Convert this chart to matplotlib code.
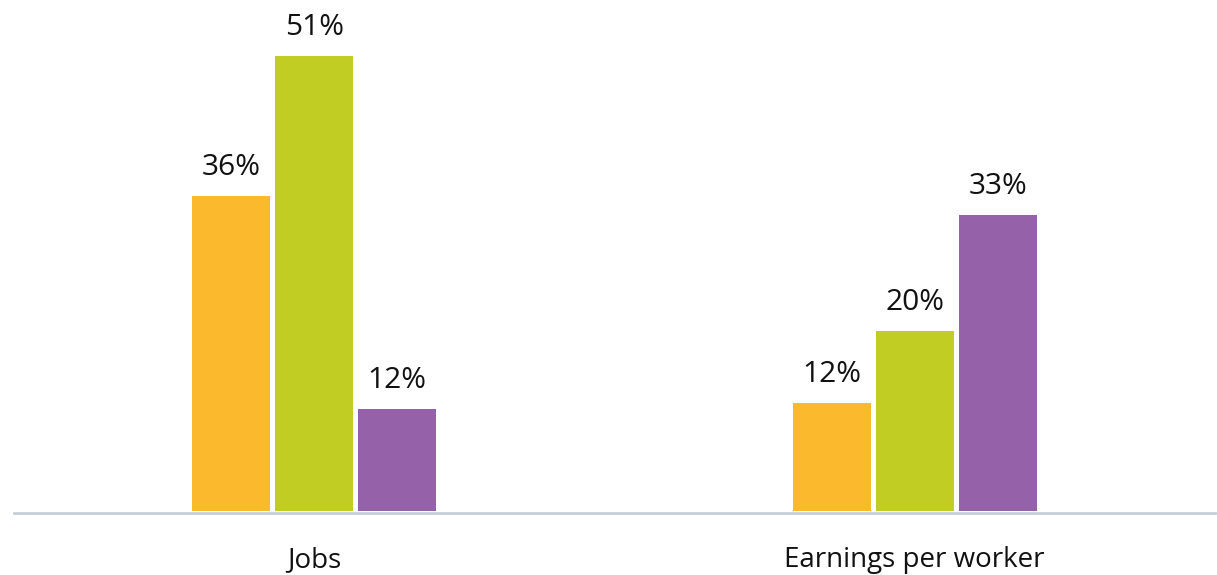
import matplotlib

matplotlib.use("Agg")
import matplotlib.pyplot as plt
import numpy as np

categories = ["Jobs", "Earnings per worker"]
series_colors = ["#FBB92E", "#C2CD23", "#9561A8"]
# values (percent)
series_a = [35.3, 12.1]
series_b = [51.0, 20.2]
series_c = [11.4, 33.2]
labels_a = ["36%", "12%"]
labels_b = ["51%", "20%"]
labels_c = ["12%", "33%"]

plt.rcParams["font.family"] = ["Open Sans", "DejaVu Sans"]

fig = plt.figure(figsize=(12.17, 5.75), dpi=100)
ax = fig.add_axes([14 / 1217, 62 / 575, 1201 / 1217, 513 / 575])

x = np.arange(len(categories))
width = 0.13
step = 0.138
for i, (vals, labs) in enumerate(zip([series_a, series_b, series_c], [labels_a, labels_b, labels_c])):
    bars = ax.bar(x + (i - 1) * step, vals, width, color=series_colors[i], zorder=2)
    for bar, lab in zip(bars, labs):
        ax.annotate(lab, (bar.get_x() + bar.get_width() / 2, bar.get_height()),
                    xytext=(0, 10), textcoords="offset points",
                    ha="center", va="bottom", fontsize=21.5, color="#111111")

ax.set_xlim(-0.5, 1.5)
ax.set_ylim(-0.22, 57.3)
ax.set_xticks(x)
ax.set_xticklabels(categories, fontsize=20, color="#111111")
ax.tick_params(axis="x", length=0, pad=24)
ax.set_yticks([])
for side in ["top", "right", "left"]:
    ax.spines[side].set_visible(False)
ax.spines["bottom"].set_color("#C5CED8")
ax.spines["bottom"].set_linewidth(2)

fig.savefig("out.png", dpi=100)
